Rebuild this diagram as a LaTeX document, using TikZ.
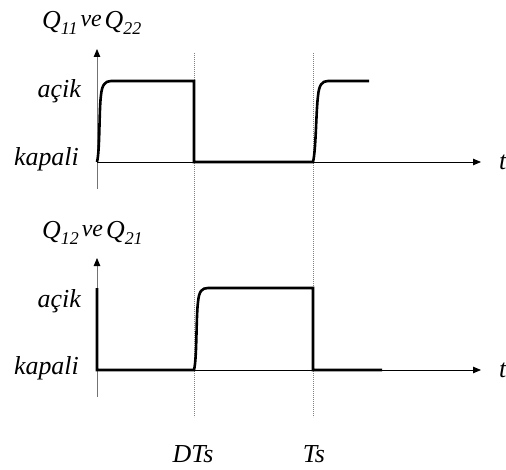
\documentclass[tikz,border=0pt]{standalone}
\usepackage{fontspec}
\setmainfont{Liberation Serif}
\usetikzlibrary{arrows.meta}
\newcommand{\qlab}[2]{{\fontsize{26}{28}\selectfont Q}\raisebox{-6bp}{\fontsize{18}{18}\selectfont #1}\hspace{3bp}\raisebox{2bp}{\fontsize{24}{24}\selectfont ve}\hspace{3bp}{\fontsize{26}{28}\selectfont Q}\raisebox{-6bp}{\fontsize{18}{18}\selectfont #2}}
\begin{document}
\begin{tikzpicture}[x=1bp,y=-1bp,
 lbl/.style={inner sep=0pt, font=\fontsize{26}{28}\selectfont\itshape},
 qstyle/.style={inner sep=0pt, font=\itshape},
 axis/.style={line width=0.8bp, -{Triangle[length=8bp,width=6.5bp]}},
 yaxis/.style={line width=0.8bp, draw=black!55, -{Triangle[length=8bp,width=6.5bp,color=black]}},
 wave/.style={line width=2.6bp, line join=miter},
 guide/.style={line width=0.7bp, draw=black!50, dash pattern=on 1bp off 1bp}]
\useasboundingbox (0,0) rectangle (506,470);
% coordinates
\coordinate (O1) at (97,162);
\coordinate (Y1b) at (97,189);
\coordinate (Y1t) at (97,49);
\coordinate (X1e) at (481,162);
\coordinate (O2) at (97,370);
\coordinate (Y2b) at (97,397);
\coordinate (Y2t) at (97,258);
\coordinate (X2e) at (481,370);
\coordinate (G1t) at (194,53);
\coordinate (G1b) at (194,417);
\coordinate (G2t) at (313,53);
\coordinate (G2b) at (313,417);
% guides
\draw[guide] (G1t) -- (G1b);
\draw[guide] (G2t) -- (G2b);
% axes
\draw[yaxis] (Y1b) -- (Y1t);
\draw[axis] (O1) -- (X1e);
\draw[yaxis] (Y2b) -- (Y2t);
\draw[axis] (O2) -- (X2e);
% waveforms
\draw[wave] (97,162) .. controls (100,150) and (99,110) .. (101,95)
  .. controls (102,85) and (105,81) .. (111,81) -- (194,81) -- (194,162) -- (313,162)
  .. controls (316,150) and (316,112) .. (318,96)
  .. controls (319,85) and (322,81) .. (328,81) -- (369,81);
\draw[wave] (97,288) -- (97,370) -- (194,370)
  .. controls (197,358) and (196,318) .. (198,302)
  .. controls (199,291) and (202,288) .. (208,288) -- (313,288) -- (313,370) -- (382,370);
% labels
\node[qstyle, anchor=base west] (q1) at (42,29) {\qlab{11}{22}};
\node[qstyle, anchor=base west] (q2) at (42,239) {\qlab{12}{21}};
\node[lbl, anchor=base east] (a1) at (81,98) {açik};
\node[lbl, anchor=base east] (k1) at (79,166) {kapali};
\node[lbl, anchor=base east] (a2) at (81,307) {açik};
\node[lbl, anchor=base east] (k2) at (79,374) {kapali};
\node[lbl, anchor=base west] (t1) at (499,170) {t};
\node[lbl, anchor=base west] (t2) at (499,377) {t};
\node[lbl, anchor=base] (dts) at (193,462) {DTs};
\node[lbl, anchor=base] (ts) at (314,462) {Ts};
\end{tikzpicture}
\end{document}
